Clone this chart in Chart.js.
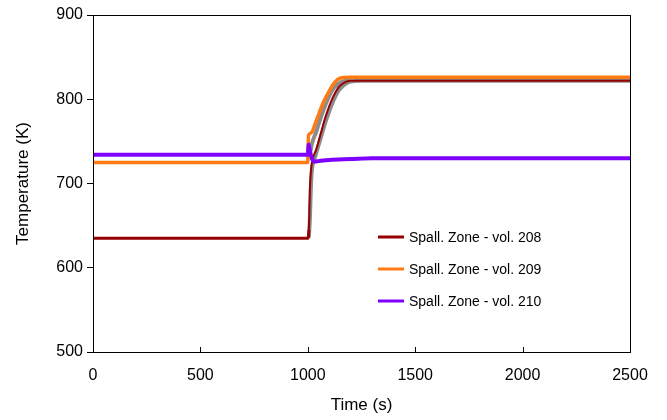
<!DOCTYPE html>
<html>
<head>
<meta charset="utf-8">
<script src="https://cdn.jsdelivr.net/npm/chart.js@4"></script>
<style>
  html, body { margin: 0; padding: 0; background: #fff; }
  #wrap { width: 667px; height: 420px; }
</style>
</head>
<body>
<div id="wrap"><canvas id="chart" width="667" height="420"></canvas></div>
<script>
const time208 = [0, 1000, 1005, 1010, 1015, 1020, 1040, 1060, 1080, 1100, 1120, 1140, 1160, 1180, 1200, 1250, 1500, 2000, 2500];
const temp208 = [635, 635, 645, 695, 716, 726, 741, 759, 777, 792, 804, 813, 818, 821, 822, 822, 822, 822, 822];

const time209 = [0, 1000, 1003, 1015, 1040, 1070, 1100, 1125, 1150, 1200, 1500, 2000, 2500];
const temp209 = [725, 725, 757, 760, 775, 795, 810, 820, 825, 826, 826, 826, 826];

const time210 = [0, 1000, 1004, 1010, 1020, 1030, 1060, 1100, 1200, 1300, 1500, 2000, 2500];
const temp210 = [734, 734, 746, 738, 729, 726, 727, 728, 729, 730, 730, 730, 730];

// grey traces lying beside the coloured ones during the transient
const timeGreyA = [1005, 1010, 1015, 1020, 1030, 1040, 1060, 1080, 1100, 1120, 1140, 1160, 1180, 1200, 1250, 1500, 2000, 2500];
const tempGreyA = [636, 660, 700, 718, 728, 737, 754, 771, 786, 799, 809, 815, 819, 821, 822, 822, 822, 822];
const timeGreyB = [1010, 1020, 1040, 1060, 1080, 1100, 1120, 1140, 1160, 1200];
const tempGreyB = [735, 748, 762, 778, 792, 804, 813, 818, 821, 822];

const labels = ['Spall. Zone - vol. 208', 'Spall. Zone - vol. 209', 'Spall. Zone - vol. 210'];
const colors = ['#960000', '#ff7a12', '#7f00ff'];

const xTicks = [0, 500, 1000, 1500, 2000, 2500];
const yTicks = [500, 600, 700, 800, 900];

const FONT = 'Liberation Sans, Arial, sans-serif';

function pts(t, v) {
  return t.map((x, i) => ({ x: x, y: v[i] }));
}

const boxPlugin = {
  id: 'box',
  afterDraw(chart) {
    const ctx = chart.ctx;
    const a = chart.chartArea;
    ctx.save();
    ctx.strokeStyle = '#000';
    ctx.lineWidth = 1;
    ctx.strokeRect(a.left + 0.5, a.top + 0.5, a.right - a.left, a.bottom - a.top);
    // inward ticks on the time axis
    const xs = chart.scales.x;
    ctx.beginPath();
    xTicks.forEach(t => {
      const px = Math.round(xs.getPixelForValue(t)) + 0.5;
      ctx.moveTo(px, a.bottom);
      ctx.lineTo(px, a.bottom - 5);
    });
    ctx.stroke();
    // legend
    ctx.font = '14px ' + FONT;
    ctx.textBaseline = 'middle';
    ctx.fillStyle = '#000';
    labels.forEach((lab, i) => {
      const y = 237 + i * 32;
      ctx.strokeStyle = colors[i];
      ctx.lineWidth = 3;
      ctx.beginPath();
      ctx.moveTo(378, y);
      ctx.lineTo(404, y);
      ctx.stroke();
      ctx.fillText(lab, 409, y + 1);
    });
    ctx.restore();
  }
};

new Chart(document.getElementById('chart'), {
  type: 'line',
  data: {
    datasets: [
      { label: labels[2], data: pts(time210, temp210), borderColor: colors[2], borderWidth: 4, order: 0 },
      { label: labels[1], data: pts(time209, temp209), borderColor: colors[1], borderWidth: 3.5, order: 1 },
      { label: labels[0], data: pts(time208, temp208), borderColor: colors[0], borderWidth: 3, order: 2,
        segment: { borderWidth: c => c.p0.parsed.x >= 1005 ? 2 : 3 } },
      { label: 'greyB', data: pts(timeGreyB, tempGreyB), borderColor: '#8c8c8c', borderWidth: 4, order: 3 },
      { label: 'greyA', data: pts(timeGreyA, tempGreyA), borderColor: '#8c8c8c', borderWidth: 4, order: 4 }
    ]
  },
  options: {
    responsive: false,
    animation: false,
    layout: { padding: { top: 15, right: 37, left: 0, bottom: 0 } },
    elements: {
      point: { radius: 0 },
      line: { cubicInterpolationMode: 'monotone', borderCapStyle: 'butt' }
    },
    plugins: {
      legend: { display: false },
      tooltip: { enabled: false }
    },
    scales: {
      x: {
        type: 'linear',
        min: 0,
        max: 2500,
        afterBuildTicks: s => { s.ticks = xTicks.map(v => ({ value: v })); },
        afterFit: s => { s.height = 68; },
        grid: { display: false },
        border: { display: true, color: '#000', width: 1 },
        ticks: { color: '#000', font: { family: FONT, size: 16 }, padding: 6, maxRotation: 0, callback: v => String(v) },
        title: { display: true, text: 'Time (s)', color: '#000', font: { family: FONT, size: 17 }, padding: { top: 4 } }
      },
      y: {
        min: 500,
        max: 900,
        afterBuildTicks: s => { s.ticks = yTicks.map(v => ({ value: v })); },
        afterFit: s => { s.width = 93; },
        grid: { drawOnChartArea: false, tickLength: 6, color: '#000' },
        border: { display: true, color: '#000', width: 1 },
        ticks: { color: '#000', font: { family: FONT, size: 16 }, padding: 4, callback: v => String(v) },
        title: { display: true, text: 'Temperature (K)', color: '#000', font: { family: FONT, size: 17 }, padding: { top: 13, bottom: 0 } }
      }
    }
  },
  plugins: [boxPlugin]
});
</script>
</body>
</html>
